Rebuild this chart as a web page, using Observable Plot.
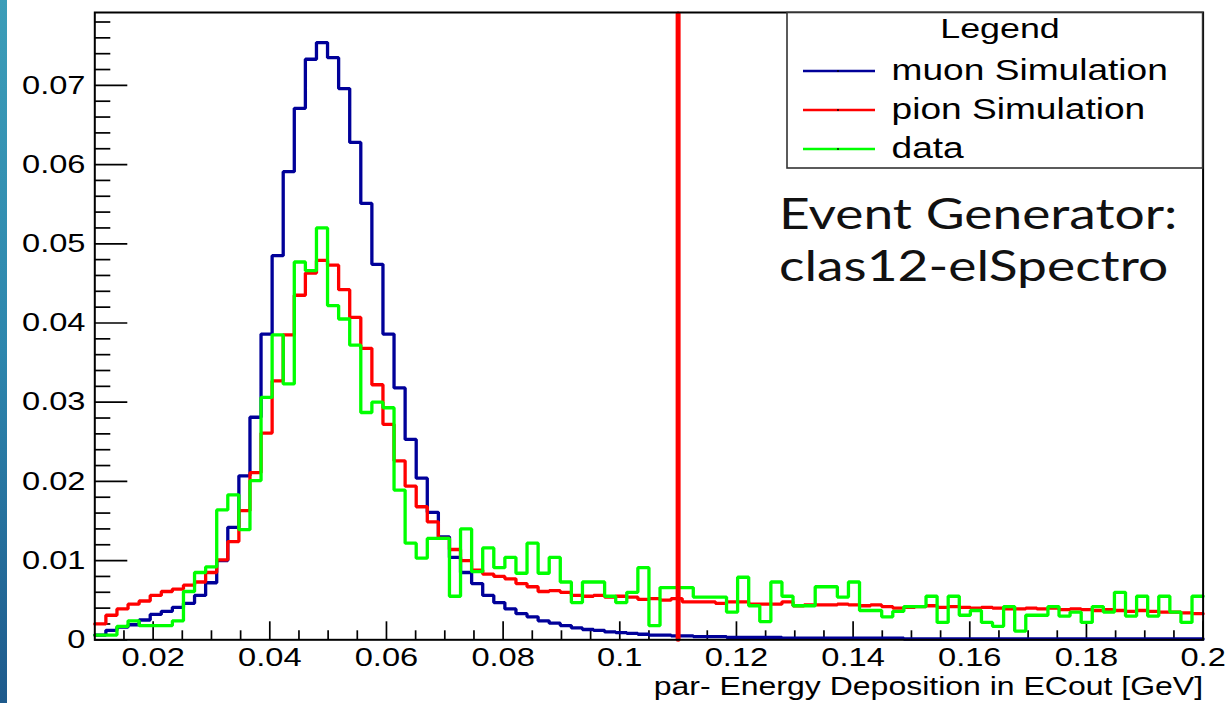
<!DOCTYPE html>
<html>
<head>
<meta charset="utf-8">
<script src="https://cdn.jsdelivr.net/npm/d3@7"></script>
<script src="https://cdn.jsdelivr.net/npm/@observablehq/plot@0.6"></script>
<style>
  html, body { margin: 0; padding: 0; background: #fff; }
  #wrap { position: relative; width: 1230px; height: 703px; overflow: hidden; background: #fff; }
  #chart { position: absolute; left: 0; top: 0; }
  #bar { position: absolute; left: 0; top: 0; width: 7px; height: 703px; z-index: 2;
         background: linear-gradient(to bottom, #3c9db8 0%, #2d86ad 50%, #1e5a8c 100%); }
  #note { position: absolute; left: 779px; top: 187px; z-index: 3; white-space: nowrap;
          font-family: Lato, "Open Sans", sans-serif; font-weight: 400; font-size: 43px;
          line-height: 52px; color: #111; transform: scaleX(1.24); transform-origin: 0 0; }
</style>
</head>
<body>
<div id="wrap">
  <div id="chart"></div>
  <div id="bar"></div>
  <div id="note">Event Generator:<br>clas12-elSpectro</div>
</div>
<script>
// Histogram binning: 100 bins covering 0.01 – 0.2 GeV
const binStart = 0.01;
const binWidth = 0.0019;

// Normalised bin contents
const muonSim = [
  0.0006, 0.0012, 0.0016, 0.0019, 0.0025, 0.0032, 0.0036, 0.0041, 0.0046, 0.0056,
  0.0072, 0.0100, 0.0142, 0.0207, 0.0281, 0.0386, 0.0485, 0.0591, 0.0671, 0.0733,
  0.0754, 0.0735, 0.0696, 0.0628, 0.0551, 0.0474, 0.0386, 0.0318, 0.0253, 0.0204,
  0.0161, 0.0130, 0.0104, 0.0085, 0.0071, 0.0056, 0.0047, 0.0039, 0.0033, 0.0029,
  0.0024, 0.0021, 0.0018, 0.0015, 0.0013, 0.0012, 0.0010, 0.0009, 0.0008, 0.0007,
  0.0006, 0.0006, 0.0005, 0.0005, 0.0004, 0.0004, 0.0004, 0.0003, 0.0003, 0.0003,
  0.0003, 0.0003, 0.0002, 0.0002, 0.0002, 0.0002, 0.0002, 0.0002, 0.0002, 0.0002,
  0.0002, 0.0002, 0.0002, 0.0001, 0.0001, 0.0001, 0.0001, 0.0001, 0.0001, 0.0001,
  0.0001, 0.0001, 0.0001, 0.0001, 0.0001, 0.0001, 0.0001, 0.0001, 0.0001, 0.0001,
  0.0001, 0.0001, 0.0001, 0.0001, 0.0001, 0.0001, 0.0001, 0.0001, 0.0001, 0.0001
];
const pionSim = [
  0.0020, 0.0031, 0.0039, 0.0045, 0.0049, 0.0056, 0.0061, 0.0064, 0.0069, 0.0073,
  0.0085, 0.0101, 0.0124, 0.0163, 0.0211, 0.0261, 0.0327, 0.0385, 0.0435, 0.0463,
  0.0479, 0.0473, 0.0442, 0.0407, 0.0368, 0.0322, 0.0272, 0.0226, 0.0194, 0.0168,
  0.0149, 0.0128, 0.0114, 0.0100, 0.0088, 0.0083, 0.0080, 0.0077, 0.0071, 0.0067,
  0.0061, 0.0062, 0.0060, 0.0056, 0.0055, 0.0056, 0.0054, 0.0055, 0.0054, 0.0051,
  0.0052, 0.0050, 0.0052, 0.0048, 0.0048, 0.0048, 0.0046, 0.0048, 0.0048, 0.0045,
  0.0045, 0.0045, 0.0048, 0.0043, 0.0044, 0.0044, 0.0044, 0.0045, 0.0044, 0.0043,
  0.0044, 0.0042, 0.0040, 0.0041, 0.0042, 0.0043, 0.0041, 0.0042, 0.0041, 0.0040,
  0.0041, 0.0040, 0.0039, 0.0039, 0.0040, 0.0039, 0.0040, 0.0038, 0.0039, 0.0038,
  0.0037, 0.0038, 0.0037, 0.0036, 0.0037, 0.0036, 0.0035, 0.0035, 0.0034, 0.0033
];
const dataHist = [
  0.0006, 0.0006, 0.0017, 0.0024, 0.0018, 0.0018, 0.0018, 0.0024, 0.0061, 0.0085,
  0.0092, 0.0164, 0.0183, 0.0139, 0.0201, 0.0306, 0.0385, 0.0323, 0.0477, 0.0466,
  0.0520, 0.0422, 0.0405, 0.0372, 0.0287, 0.0300, 0.0293, 0.0189, 0.0122, 0.0103,
  0.0128, 0.0128, 0.0055, 0.0140, 0.0086, 0.0116, 0.0091, 0.0104, 0.0084, 0.0122,
  0.0084, 0.0104, 0.0073, 0.0047, 0.0073, 0.0073, 0.0055, 0.0047, 0.0060, 0.0091,
  0.0018, 0.0066, 0.0066, 0.0066, 0.0054, 0.0054, 0.0054, 0.0035, 0.0079, 0.0043,
  0.0023, 0.0073, 0.0055, 0.0043, 0.0043, 0.0067, 0.0067, 0.0054, 0.0073, 0.0037,
  0.0037, 0.0029, 0.0036, 0.0042, 0.0042, 0.0055, 0.0022, 0.0055, 0.0031, 0.0037,
  0.0022, 0.0017, 0.0042, 0.0011, 0.0031, 0.0031, 0.0042, 0.0030, 0.0035, 0.0022,
  0.0042, 0.0035, 0.0060, 0.0030, 0.0055, 0.0030, 0.0055, 0.0035, 0.0022, 0.0055
];

const seriesNames = ["muon Simulation", "pion Simulation", "data"];
const seriesColors = ["#000099", "#ff0000", "#00ff00"];
const legendTitle = "Legend";

// Energy cut marker
const cutValue = 0.11;

const xTitle = "par- Energy Deposition in ECout [GeV]";
const xMajorTicks = [0.02, 0.04, 0.06, 0.08, 0.1, 0.12, 0.14, 0.16, 0.18, 0.2];
const xTickLabels = ["0.02", "0.04", "0.06", "0.08", "0.1", "0.12", "0.14", "0.16", "0.18", "0.2"];
const xMinorTicks = [0.015, 0.025, 0.03, 0.035, 0.045, 0.05, 0.055, 0.065, 0.07, 0.075,
  0.085, 0.09, 0.095, 0.105, 0.11, 0.115, 0.125, 0.13, 0.135, 0.145, 0.15, 0.155,
  0.165, 0.17, 0.175, 0.185, 0.19, 0.195];
const yMajorTicks = [0, 0.01, 0.02, 0.03, 0.04, 0.05, 0.06, 0.07];
const yTickLabels = ["0", "0.01", "0.02", "0.03", "0.04", "0.05", "0.06", "0.07"];
const yMinorTicks = [0.002, 0.004, 0.006, 0.008, 0.012, 0.014, 0.016, 0.018, 0.022, 0.024,
  0.026, 0.028, 0.032, 0.034, 0.036, 0.038, 0.042, 0.044, 0.046, 0.048, 0.052, 0.054,
  0.056, 0.058, 0.062, 0.064, 0.066, 0.068, 0.072, 0.074, 0.076, 0.078];

const xDomain = [0.01, 0.2];
const yDomain = [0, 0.0792];

// Layout
const W = 1230, H = 703;
const mL = 94.3, mR = 27.4, mT = 12, mB = 63.7;
const frameW = W - mL - mR, frameH = H - mT - mB;
const font = "'Liberation Sans', Arial, Helvetica, sans-serif";
const textStretch = 1.28;

const xLabel = new Map(xMajorTicks.map((v, i) => [v, xTickLabels[i]]));
const yLabel = new Map(yMajorTicks.map((v, i) => [v, yTickLabels[i]]));

// Outline of a histogram as step-after points (bin left edges + final right edge)
function stepRows(values) {
  const rows = values.map((v, i) => ({x: binStart + i * binWidth, y: v}));
  rows.push({x: binStart + values.length * binWidth, y: values[values.length - 1]});
  return rows;
}
const hists = [muonSim, pionSim, dataHist];

const tickStyle = {stroke: "#000", strokeWidth: 1.7};

const plot = Plot.plot({
  width: W,
  height: H,
  marginLeft: mL,
  marginRight: mR,
  marginTop: mT,
  marginBottom: mB,
  style: {fontFamily: font, background: "transparent", color: "#000"},
  x: {domain: xDomain},
  y: {domain: yDomain},
  marks: [
    Plot.ruleX(xMinorTicks, {x: d => d, insetTop: frameH - 9, ...tickStyle}),
    Plot.ruleX(xMajorTicks, {x: d => d, insetTop: frameH - 18, ...tickStyle}),
    Plot.ruleY(yMinorTicks, {y: d => d, insetRight: frameW - 16, ...tickStyle}),
    Plot.ruleY(yMajorTicks, {y: d => d, insetRight: frameW - 33, ...tickStyle}),
    ...hists.map((h, i) => Plot.line(stepRows(h), {
      x: "x", y: "y", curve: "step-after",
      stroke: seriesColors[i], strokeWidth: 3.3, strokeLinejoin: "miter"
    })),
    Plot.ruleX([cutValue], {stroke: "#ff0000", strokeWidth: 5, insetTop: 2, strokeLinecap: "round"}),
    Plot.frame({stroke: "#000", strokeWidth: 2}),
    Plot.axisX({ticks: xMajorTicks, tickSize: 0, tickPadding: 8, fontSize: 25.5,
      tickFormat: d => xLabel.get(d), label: null, fill: "#000"}),
    Plot.axisY({ticks: yMajorTicks, tickSize: 0, tickPadding: 9.3, fontSize: 25.5,
      tickFormat: d => yLabel.get(d), label: null, fill: "#000"}),
    Plot.text([xTitle], {text: d => d, frameAnchor: "bottom-right", textAnchor: "end",
      lineAnchor: "bottom", dy: 54.7, fontSize: 25, fill: "#000"})
  ]
});

// Legend box in the upper-right corner of the frame
const svg = d3.select(plot);
const lg = svg.append("g").attr("font-family", font).attr("fill", "#000");
lg.append("rect")
  .attr("x", 787).attr("y", 12.5).attr("width", 415.6).attr("height", 155.5)
  .attr("fill", "#fff").attr("stroke", "#333").attr("stroke-width", 1.6);
lg.append("text")
  .attr("transform", "translate(1000,37.5)")
  .attr("text-anchor", "middle").attr("font-size", 28)
  .text(legendTitle);
seriesNames.forEach((name, i) => {
  const ly = 71 + i * 39;
  lg.append("line")
    .attr("x1", 803).attr("x2", 875).attr("y1", ly).attr("y2", ly)
    .attr("stroke", seriesColors[i]).attr("stroke-width", 2.6);
  lg.append("circle").attr("cx", 838).attr("cy", ly).attr("r", 0.9).attr("fill", "#000");
  lg.append("text")
    .attr("transform", `translate(891.5,${ly + 9})`)
    .attr("text-anchor", "start")
    .attr("font-size", 29)
    .text(name);
});

// Wide Helvetica-style lettering: stretch every label horizontally about its anchor
svg.selectAll("text").each(function () {
  const t = this.getAttribute("transform") || "";
  this.setAttribute("transform", `${t} scale(${textStretch},1)`);
});

document.getElementById("chart").appendChild(plot);
</script>
</body>
</html>
